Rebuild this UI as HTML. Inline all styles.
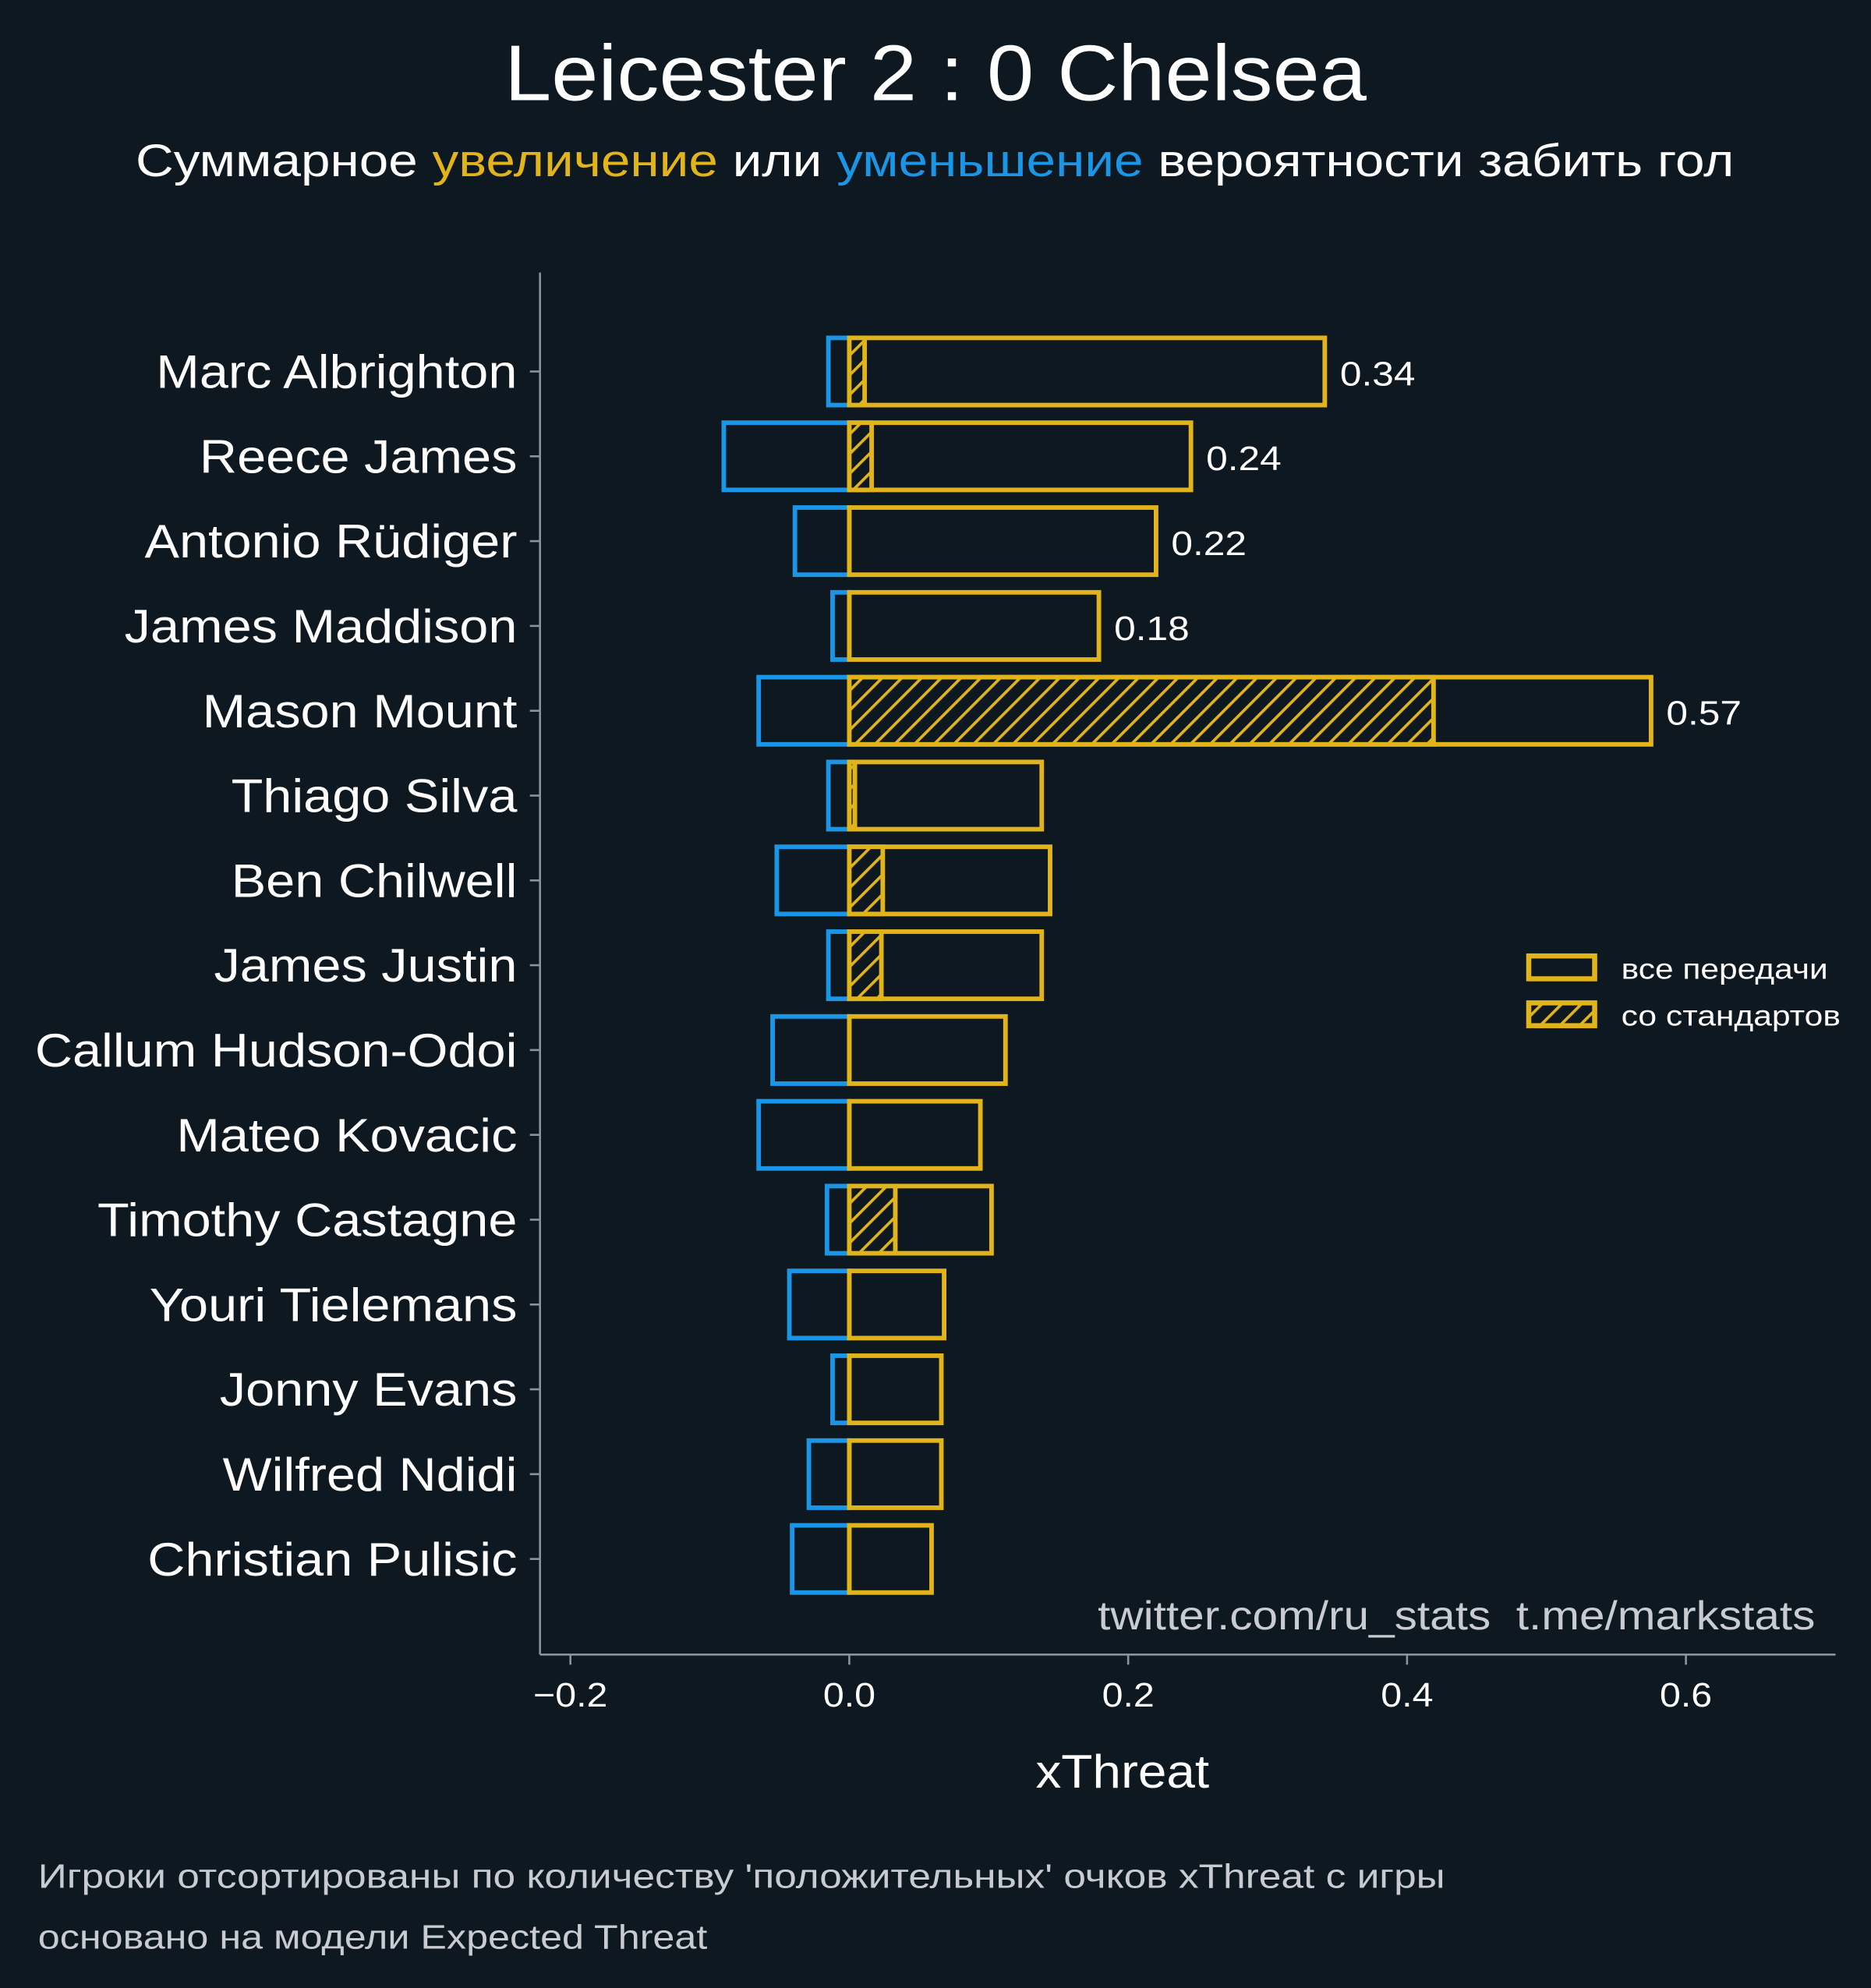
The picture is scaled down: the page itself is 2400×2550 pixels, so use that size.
<!DOCTYPE html>
<html><head><meta charset="utf-8"><style>
html,body{margin:0;padding:0;background:#0e1820;}
svg{display:block;font-family:"Liberation Sans","DejaVu Sans",sans-serif;}
</style></head><body>
<svg id="chart" width="2400" height="2550" viewBox="0 0 1476 1568" preserveAspectRatio="none" xmlns="http://www.w3.org/2000/svg">
<defs>
<pattern id="hatch" patternUnits="userSpaceOnUse" width="11" height="11" patternTransform="rotate(45)">
<rect width="11" height="11" fill="#0e1820"/>
<line x1="0" y1="0" x2="0" y2="11" stroke="#e2b41b" stroke-width="4.5"/>
</pattern>
</defs>
<rect x="0" y="0" width="1476" height="1568" fill="#0e1820"/>
<text x="398" y="79" textLength="680" lengthAdjust="spacingAndGlyphs" fill="#ffffff" font-size="62">Leicester 2 : 0 Chelsea</text>
<text x="107" y="139" textLength="1261" lengthAdjust="spacingAndGlyphs" fill="#ffffff" font-size="36">Суммарное <tspan fill="#e2b41b">увеличение</tspan> или <tspan fill="#1b96e6">уменьшение</tspan> вероятности забить гол</text>
<g id="plot"></g>
<line x1="426" y1="215" x2="426" y2="1305" stroke="#8a949c" stroke-width="1.6"/>
<line x1="426" y1="1305" x2="1448" y2="1305" stroke="#8a949c" stroke-width="1.6"/>
<text x="817" y="1410" textLength="137" lengthAdjust="spacingAndGlyphs" fill="#ffffff" font-size="37">xThreat</text>
<text x="866" y="1285" textLength="566" lengthAdjust="spacingAndGlyphs" fill="#c8ccd0" font-size="32" xml:space="preserve">twitter.com/ru_stats  t.me/markstats</text>
<g>
<rect x="1206" y="754" width="52" height="18" fill="#0e1820" stroke="#e2b41b" stroke-width="4"/>
<text x="1279" y="772" textLength="163" lengthAdjust="spacingAndGlyphs" fill="#ffffff" font-size="23">все передачи</text>
<rect x="1206" y="791" width="52" height="18" fill="url(#hatch)" stroke="#e2b41b" stroke-width="4"/>
<text x="1279" y="809" textLength="173" lengthAdjust="spacingAndGlyphs" fill="#ffffff" font-size="23">со стандартов</text>
</g>
<text x="30" y="1489" textLength="1110" lengthAdjust="spacingAndGlyphs" fill="#c8ccd0" font-size="27">Игроки отсортированы по количеству 'положительных' очков xThreat с игры</text>
<text x="30" y="1537" textLength="528" lengthAdjust="spacingAndGlyphs" fill="#c8ccd0" font-size="27">основано на модели Expected Threat</text>
</svg>
<script>
const players = ["Marc Albrighton","Reece James","Antonio Rüdiger","James Maddison","Mason Mount","Thiago Silva","Ben Chilwell","James Justin","Callum Hudson-Odoi","Mateo Kovacic","Timothy Castagne","Youri Tielemans","Jonny Evans","Wilfred Ndidi","Christian Pulisic"];
const positiveValues = [0.341,0.245,0.220,0.179,0.575,0.138,0.144,0.138,0.112,0.094,0.102,0.068,0.066,0.066,0.059];
const negativeValues = [-0.015,-0.090,-0.039,-0.012,-0.065,-0.015,-0.052,-0.015,-0.055,-0.065,-0.016,-0.043,-0.012,-0.029,-0.041];
const setPieceValues = [0.011,0.016,0,0,0.419,0.004,0.024,0.023,0,0,0.033,0,0,0,0];
const valueLabels = ["0.34","0.24","0.22","0.18","0.57"];
const xTicks = [-0.2,0.0,0.2,0.4,0.6];
const xTickLabels = ["\u22120.2","0.0","0.2","0.4","0.6"];

const NS="http://www.w3.org/2000/svg";
const g=document.getElementById('plot');
const xScale=v=>670+v*1100;
const yScale=i=>293+i*66.9;
const barH=53;
const Y="#e2b41b", B="#1b96e6";
function mk(tag,attrs){const e=document.createElementNS(NS,tag);for(const k in attrs)e.setAttribute(k,attrs[k]);g.appendChild(e);return e;}
function stretch(el,f){const w=el.getComputedTextLength();el.setAttribute('textLength',(w*f).toFixed(1));el.setAttribute('lengthAdjust','spacingAndGlyphs');}

players.forEach((p,i)=>{
  const yc=yScale(i);
  let t=mk('line',{x1:418,x2:426,y1:yc,y2:yc,stroke:'#8a949c','stroke-width':1.6});
  
  
  let lb=mk('text',{x:408,y:yc+13,'text-anchor':'end',fill:'#ffffff','font-size':37});
  lb.textContent=p;
  
  
  stretch(lb,1.108);
  let nb=mk('rect',{x:xScale(negativeValues[i]),y:yc-barH/2,width:xScale(0)-xScale(negativeValues[i]),height:barH,fill:'none',stroke:B,'stroke-width':3.6});
  
  
  let pb=mk('rect',{x:xScale(0),y:yc-barH/2,width:xScale(positiveValues[i])-xScale(0),height:barH,fill:'none',stroke:Y,'stroke-width':3.6});
  
  
  if(setPieceValues[i]>0){
    let sb=mk('rect',{x:xScale(0),y:yc-barH/2,width:xScale(setPieceValues[i])-xScale(0),height:barH,fill:'url(#hatch)',stroke:Y,'stroke-width':3.6});
    
    
  }
  if(i<valueLabels.length){
    let vl=mk('text',{x:xScale(positiveValues[i])+12,y:yc+11,fill:'#ffffff','font-size':27});
    vl.textContent=valueLabels[i];
    
    
    stretch(vl,1.13);
  }
});
xTicks.forEach((v,i)=>{
  const x=xScale(v);
  let t=mk('line',{x1:x,x2:x,y1:1305,y2:1313,stroke:'#8a949c','stroke-width':1.6});
  
  
  let l=mk('text',{x:x,y:1346,'text-anchor':'middle',fill:'#ffffff','font-size':27});
  l.textContent=xTickLabels[i];
  
  
  stretch(l,1.1);
});
</script>
</body></html>
